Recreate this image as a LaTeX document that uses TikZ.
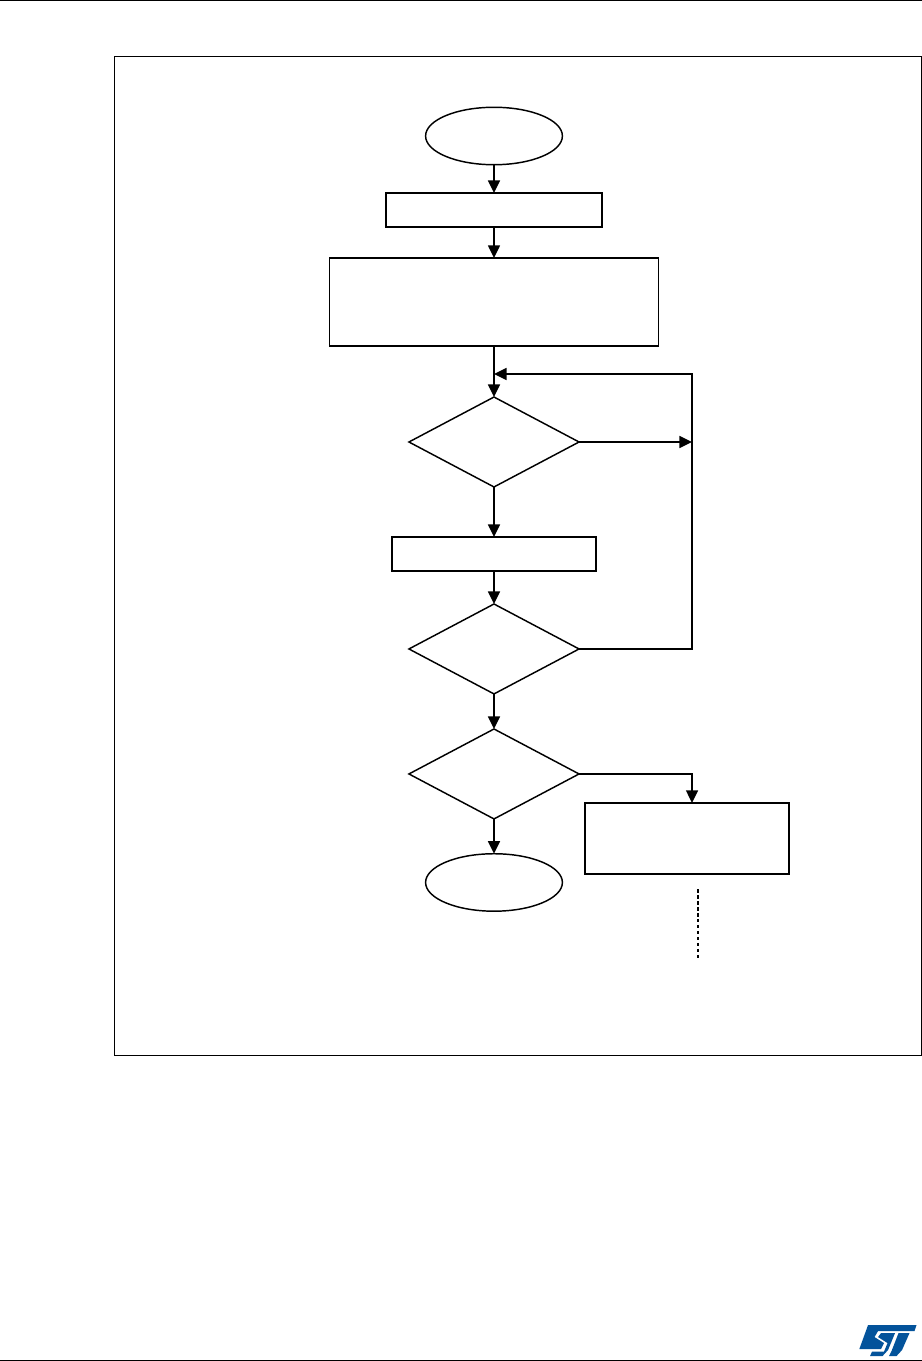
\documentclass[tikz,border=0pt]{standalone}
\usepackage{tikz}
\usetikzlibrary{arrows.meta, shapes.geometric}
\definecolor{stBlue}{RGB}{3,83,155}
\tikzstyle{fStartStop} = [ellipse, minimum width=3.62cm, minimum height=1.52cm, inner sep=0pt, outer sep=0pt, draw=black, line width=1.1pt]
\tikzstyle{fProcess} = [rectangle, minimum width=5.40cm, minimum height=0.90cm, inner sep=0pt, outer sep=0pt, draw=black, line width=1.1pt]
\tikzstyle{fDecision} = [diamond, minimum width=4.50cm, minimum height=2.38cm, inner sep=0pt, outer sep=0pt, draw=black, line width=1.1pt]
\tikzstyle{fArrow} = [line width=1.2pt,-{Triangle[width=9pt,length=9.5pt]}]
\tikzstyle{fFrame} = [line width=0.8pt]

\begin{document}
\begin{tikzpicture}[node distance=2cm]
    \useasboundingbox (0,0) rectangle (24.394,-36.009);
    \node (start) [fStartStop] at (13.070,-3.598) {};
    \node (init) [fProcess, below of=start, node distance=1.958cm, minimum width=5.715cm] {};
    \node (config) [fProcess, below of=init, node distance=2.434cm, minimum width=8.70cm, minimum height=2.33cm] {};
    \node (check1) [fDecision, below of=config, node distance=3.704cm] {};
    \node (read) [fProcess, below of=check1, node distance=2.963cm] {};
    \node (check2) [fDecision, below of=read, node distance=2.513cm] {};
    \node (check3) [fDecision, below of=check2, node distance=3.307cm] {};
    \node (stop) [fStartStop, below of=check3, node distance=2.871cm] {};
    \node (error) [fProcess, right of=check3, node distance=5.106cm, yshift=-1.707cm, minimum height=1.88cm] {};

    \coordinate (loopTop) at (18.309,-9.895);
    \coordinate (errorIn) at (loopTop |- error.north);
    \coordinate (dotTop) at (18.468,-23.521);
    \coordinate (dotEnd) at (18.468,-25.373);
    \coordinate (frameNW) at (3.030,-1.490);
    \coordinate (frameSE) at (24.370,-27.925);
    \coordinate (headL) at (0,-0.013);
    \coordinate (headR) at (24.394,-0.013);
    \coordinate (footL) at (0,-35.990);
    \coordinate (footR) at (24.394,-35.990);

    \draw [fFrame] (frameNW) rectangle (frameSE);
    \draw [fFrame] (headL) -- (headR);
    \draw [fFrame] (footL) -- (footR);

    \draw [fArrow] (start) -- (init);
    \draw [fArrow] (init) -- (config);
    \draw [fArrow] (config) -- (check1);
    \draw [fArrow] (check1) -- (read);
    \draw [fArrow] (read) -- (check2);
    \draw [fArrow] (check2) -- (check3);
    \draw [fArrow] (check3) -- (stop);
    \draw [fArrow] (check1.east) -- (check1.east -| loopTop);
    \draw [fArrow] (check2.east) -| (loopTop) -- (loopTop -| config.south);
    \draw [fArrow] (check3.east) -| (errorIn);
    \draw [line width=1.3pt, dash pattern=on 2.7pt off 1.8pt] (dotTop) -- (dotEnd);

    \begin{scope}[x=0.026458cm, y=-0.026458cm, fill=stBlue]
        \fill (868,1325) -- (916.5,1325) -- (914.5,1331) -- (878,1331) -- (874.5,1337) -- (884,1343) -- (881,1349) -- (859.3,1349) -- cycle;
        \fill (881,1333) -- (895,1333) -- (888,1350) -- (882.5,1356) -- (870,1356) -- (872,1351.5) -- (884,1351.5) -- (887.5,1343) -- (878,1337) -- cycle;
        \fill (898.5,1333) -- (909.5,1333) -- (902,1350) -- (896.5,1356) -- (889,1356) -- (891.5,1351) -- cycle;
    \end{scope}
\end{tikzpicture}
\end{document}
